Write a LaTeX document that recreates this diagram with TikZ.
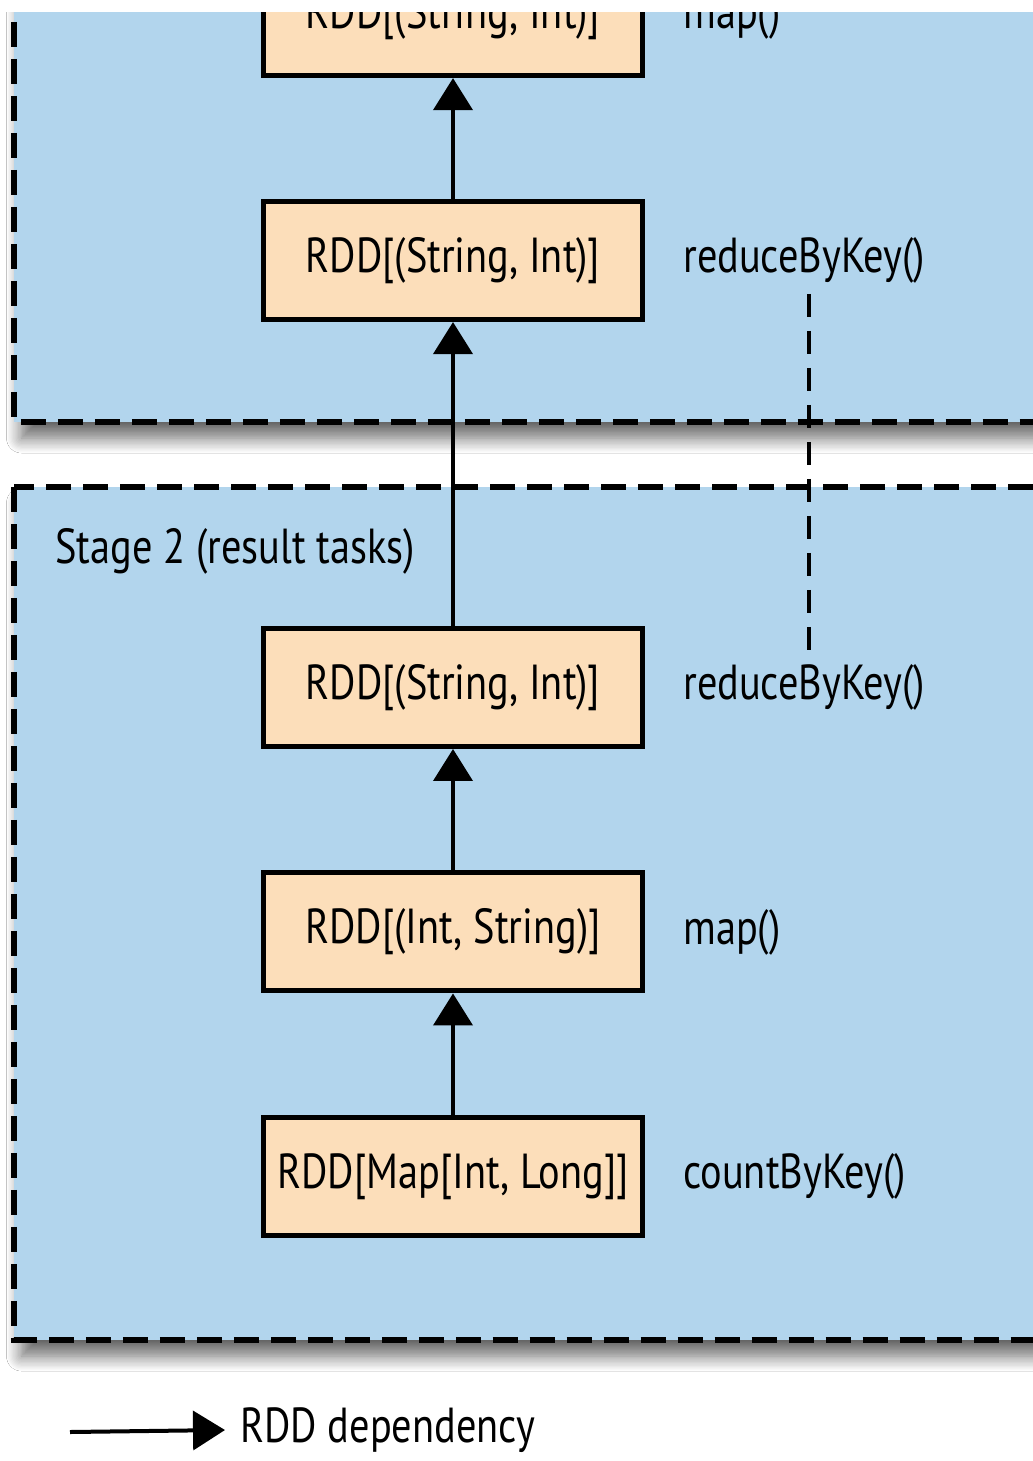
\documentclass[tikz,border=0pt]{standalone}
\usepackage{fontspec}
\setmainfont[FakeStretch=0.82]{PT Sans}
\definecolor{stageblue}{RGB}{178, 213, 237}
\definecolor{rddpeach}{RGB}{252, 222, 186}
\usetikzlibrary{arrows.meta, positioning, shadows.blur}

\begin{document}
\begin{tikzpicture}[x=0.02cm, y=-0.02cm,
    stage/.style={fill=stageblue, draw=black, line width=0.13cm, dash pattern=on 0.5cm off 0.24cm,
      blur shadow={shadow xshift=0.15cm, shadow yshift=-0.32cm, shadow blur radius=0.3cm,
        shadow blur steps=12, shadow opacity=60}},
    rdd/.style={draw=black, fill=rddpeach, line width=0.1cm, minimum width=7.6cm, minimum height=2.36cm,
      inner sep=0pt, font=\fontsize{28}{34}\selectfont},
    op/.style={inner sep=0pt, anchor=west, font=\fontsize{28}{34}\selectfont},
    dep/.style={draw=black, line width=0.08cm, -{Triangle[length=0.64cm, width=0.78cm, fill=black]}},
    shuffle/.style={draw=black, line width=0.08cm, dash pattern=on 0.46cm off 0.28cm}]
  \fill[white] (0,0) rectangle (1033,1461);
  \useasboundingbox (0,0) rectangle (1033,1461);
  \begin{scope}
    \clip (0,12) rectangle (1033,1461);
    % stages
    \draw[stage] (14,-200) rectangle (1150,422);
    \draw[stage] (14,487) rectangle (1150,1340);
    \node[anchor=west, inner sep=0pt, font=\fontsize{28}{34}\selectfont] (st2) at (55,551) {Stage 2 (result tasks)};
    % RDDs
    \node[rdd] (r3) at (453,687.5) {RDD[(String, Int)]};
    \node[rdd, below=2.43cm of r3] (r4) {RDD[(Int, String)]};
    \node[rdd, below=2.43cm of r4] (r5) {RDD[Map[Int, Long]]};
    \node[rdd, above=6.08cm of r3] (r2) {RDD[(String, Int)]};
    \node[rdd, above=2.42cm of r2] (r1) {RDD[(String, Int)]};
    % operations
    \node[op, right=0.75cm of r1] (op1) {map()};
    \node[op, right=0.75cm of r2] (op2) {reduceByKey()};
    \node[op, right=0.75cm of r3] (op3) {reduceByKey()};
    \node[op, right=0.75cm of r4] (op4) {map()};
    \node[op, right=0.75cm of r5] (op5) {countByKey()};
    % dependencies
    \draw[dep] (r2) -- (r1);
    \draw[dep] (r3) -- (r2);
    \draw[dep] (r4) -- (r3);
    \draw[dep] (r5) -- (r4);
    \draw[shuffle] ([xshift=0.1cm, yshift=-0.2cm]op2.south) -- ([xshift=0.1cm, yshift=0.2cm]op3.north);
  \end{scope}
  % legend
  \coordinate (lg) at (70,1432);
  \node[op] (lgtext) at (240,1430) {RDD dependency};
  \draw[dep] (lg) -- ([xshift=-0.3cm]lgtext.west);
\end{tikzpicture}
\end{document}
